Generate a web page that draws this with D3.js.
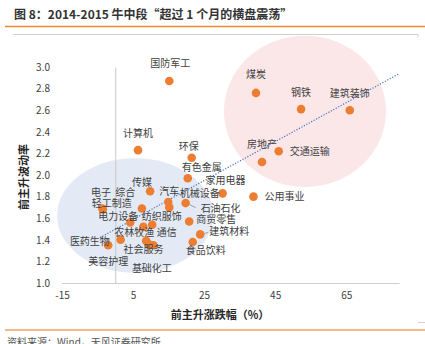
<!DOCTYPE html>
<html>
<head>
<meta charset="utf-8">
<script src="https://cdn.jsdelivr.net/npm/d3@7"></script>
<style>
  body { margin: 0; background: #fff; }
  text { font-family: "Noto Sans CJK SC", "Noto Sans", sans-serif; }
</style>
</head>
<body>
<div id="chart"></div>
<script>
// data
const sectors = ['国防军工', '计算机', '环保', '有色金属', '煤炭', '钢铁', '建筑装饰', '房地产', '交通运输', '公用事业',
  '家用电器', '传媒', '电子', '轻工制造', '综合', '汽车', '机械设备', '石油石化', '电力设备', '纺织服饰',
  '农林牧渔', '商贸零售', '通信', '社会服务', '基础化工', '美容护理', '医药生物', '食品饮料', '建筑材料'];
const riseChange = [15.2, 6.4, 21.5, 20.4, 39.6, 52.3, 66.0, 41.3, 46.0, 38.9,
  30.2, 9.8, -3.6, -3.5, 7.5, 14.9, 15.2, 19.8, 4.2, 7.9,
  10.4, 20.8, 10.7, 8.7, 9.4, 1.5, -2.0, 21.8, 23.9];
const riseVol = [2.87, 2.23, 2.16, 1.97, 2.76, 2.61, 2.60, 2.12, 2.22, 1.80,
  1.83, 1.85, 1.69, 1.68, 1.69, 1.75, 1.70, 1.74, 1.56, 1.52,
  1.54, 1.57, 1.35, 1.39, 1.36, 1.40, 1.35, 1.38, 1.45];
const xTicks = [-15, 5, 25, 45, 65];
const yTicks = [1.0, 1.2, 1.4, 1.6, 1.8, 2.0, 2.2, 2.4, 2.6, 2.8, 3.0];
// dotted trend line ends
const trendX = [-4.3, 80];
const trendY = [1.42, 2.94];

// label placement (offset from the dot, px)
const labelPos = {
  '国防军工': [1, -18], '计算机': [0, -17], '环保': [-3, -11], '有色金属': [14, -10.5],
  '煤炭': [0, -18], '钢铁': [0, -17], '建筑装饰': [0, -17], '房地产': [0, -18],
  '交通运输': [31, 0.5], '公用事业': [31, 0], '家用电器': [3, -13], '传媒': [-8, -8.5],
  '电子': [-1.5, -16.3], '轻工制造': [9, -6], '综合': [-16.7, -15.6], '汽车': [1, -11],
  '机械设备': [30.4, -14], '石油石化': [35, 5], '电力设备': [-12, -5.6], '纺织服饰': [18.4, -10],
  '农林牧渔': [-18, 7.7], '商贸零售': [27, -2], '通信': [13.4, -12.3], '社会服务': [-2.7, 9],
  '基础化工': [3.2, 24.3], '美容护理': [-12.4, 21.7], '医药生物': [-18.3, -4], '食品饮料': [13, 8.5],
  '建筑材料': [29, -3]
};

const width = 425;
const height = 344;

const svg = d3.select('#chart')
  .append('svg')
    .attr('width', width)
    .attr('height', height);

const x = d3.scaleLinear()
  .domain([-15, 80])
  .range([62, 399.5]);

const y = d3.scaleLinear()
  .domain([1, 3])
  .range([283, 67]);

// header
svg.append('text')
  .attr('x', 14)
  .attr('y', 19)
  .attr('font-size', '12px')
  .attr('font-weight', 'bold')
  .attr('fill', '#333')
  .text('图 8：2014-2015 牛中段“超过 1 个月的横盘震荡”');

svg.append('line')
  .attr('x1', 5).attr('x2', 425).attr('y1', 26.5).attr('y2', 26.5)
  .attr('stroke', '#F0892E').attr('stroke-width', 1.5);
svg.append('path')
  .attr('d', 'M13,34.5H418V37')
  .attr('fill', 'none').attr('stroke', '#d0d0d0');

// highlight ellipses
svg.append('ellipse')
  .attr('cx', x(53.4)).attr('cy', y(2.59))
  .attr('rx', x(53.4 + 22.8) - x(53.4)).attr('ry', y(2.59 - 0.70) - y(2.59))
  .attr('fill', '#FBE7E8');
svg.append('ellipse')
  .attr('cx', x(5.6)).attr('cy', y(1.625))
  .attr('rx', x(5.6 + 22) - x(5.6)).attr('ry', y(1.625 - 0.53) - y(1.625))
  .attr('fill', '#E4EAF5');

// axes
function xAxis(g) {
  g.attr('transform', `translate(0, ${y(1)})`)
    .call(d3.axisBottom(x).tickValues(xTicks).tickFormat(d => String(d)).tickSize(0).tickPadding(9))
    .attr('font-size', '10px')
    .attr('color', '#404040')
  g.select('.domain').attr('stroke', '#cfcfcf').attr('d', `M${x(-15)},0.5H${x(80)}`);
}
function yAxis(g) {
  g.attr('transform', `translate(${x(0)}, 0)`)
    .call(d3.axisLeft(y).tickValues(yTicks).tickFormat(d3.format('.1f')).tickSize(0))
    .attr('font-size', '10px')
    .attr('color', '#404040')
  g.select('.domain').attr('stroke', '#c8c8c8');
  g.selectAll('.tick text').attr('x', 50 - x(0));
}
svg.append('g').call(xAxis);
svg.append('g').call(yAxis);
svg.selectAll('.tick text').attr('font-family', '"Liberation Sans", Arial, sans-serif');

svg.append('text')
  .attr('x', 220).attr('y', 319)
  .attr('text-anchor', 'middle')
  .attr('font-size', '11px').attr('font-weight', 'bold').attr('fill', '#262626')
  .text('前主升涨跌幅（%）');
svg.append('text')
  .attr('transform', 'translate(28, 177) rotate(-90)')
  .attr('text-anchor', 'middle')
  .attr('font-size', '11px').attr('font-weight', 'bold').attr('fill', '#262626')
  .text('前主升波动率');

// trend line
svg.append('line')
  .attr('x1', x(trendX[0])).attr('y1', y(trendY[0]))
  .attr('x2', x(trendX[1])).attr('y2', y(trendY[1]))
  .attr('stroke', '#4472C4').attr('stroke-width', 1.2)
  .attr('stroke-dasharray', '1.2,1.6');

const pts = sectors.map((name, i) => ({name: name, cx: riseChange[i], vy: riseVol[i]}));

// leader lines for the two shifted labels
[['石油石化', 4, 1.5, 10, 4.5], ['建筑材料', 3, -0.5, 8, -2]].forEach(d => {
  const p = pts.find(q => q.name === d[0]);
  svg.append('line')
    .attr('x1', x(p.cx) + d[1]).attr('y1', y(p.vy) + d[2])
    .attr('x2', x(p.cx) + d[3]).attr('y2', y(p.vy) + d[4])
    .attr('stroke', '#8c8c8c').attr('stroke-width', 0.8);
});

svg.append('g')
    .attr('fill', '#ED7D31')
  .selectAll('circle')
  .data(pts)
  .join('circle')
    .attr('cx', d => x(d.cx))
    .attr('cy', d => y(d.vy))
    .attr('r', 4.3);

svg.append('g')
    .attr('font-size', '10px')
    .attr('fill', '#404040')
    .attr('text-anchor', 'middle')
  .selectAll('text')
  .data(pts)
  .join('text')
    .attr('x', d => x(d.cx) + labelPos[d.name][0])
    .attr('y', d => y(d.vy) + labelPos[d.name][1])
    .attr('dy', '0.35em')
    .text(d => d.name);

// footer
svg.append('line')
  .attr('x1', 5).attr('x2', 425).attr('y1', 330).attr('y2', 330)
  .attr('stroke', '#F0A060').attr('stroke-width', 1.5);
svg.append('line')
  .attr('x1', 418).attr('x2', 425).attr('y1', 322.5).attr('y2', 322.5)
  .attr('stroke', '#d0d0d0');
svg.append('text')
  .attr('x', 7).attr('y', 346)
  .attr('font-size', '10px').attr('fill', '#555')
  .text('资料来源：Wind，天风证券研究所');
</script>
</body>
</html>
